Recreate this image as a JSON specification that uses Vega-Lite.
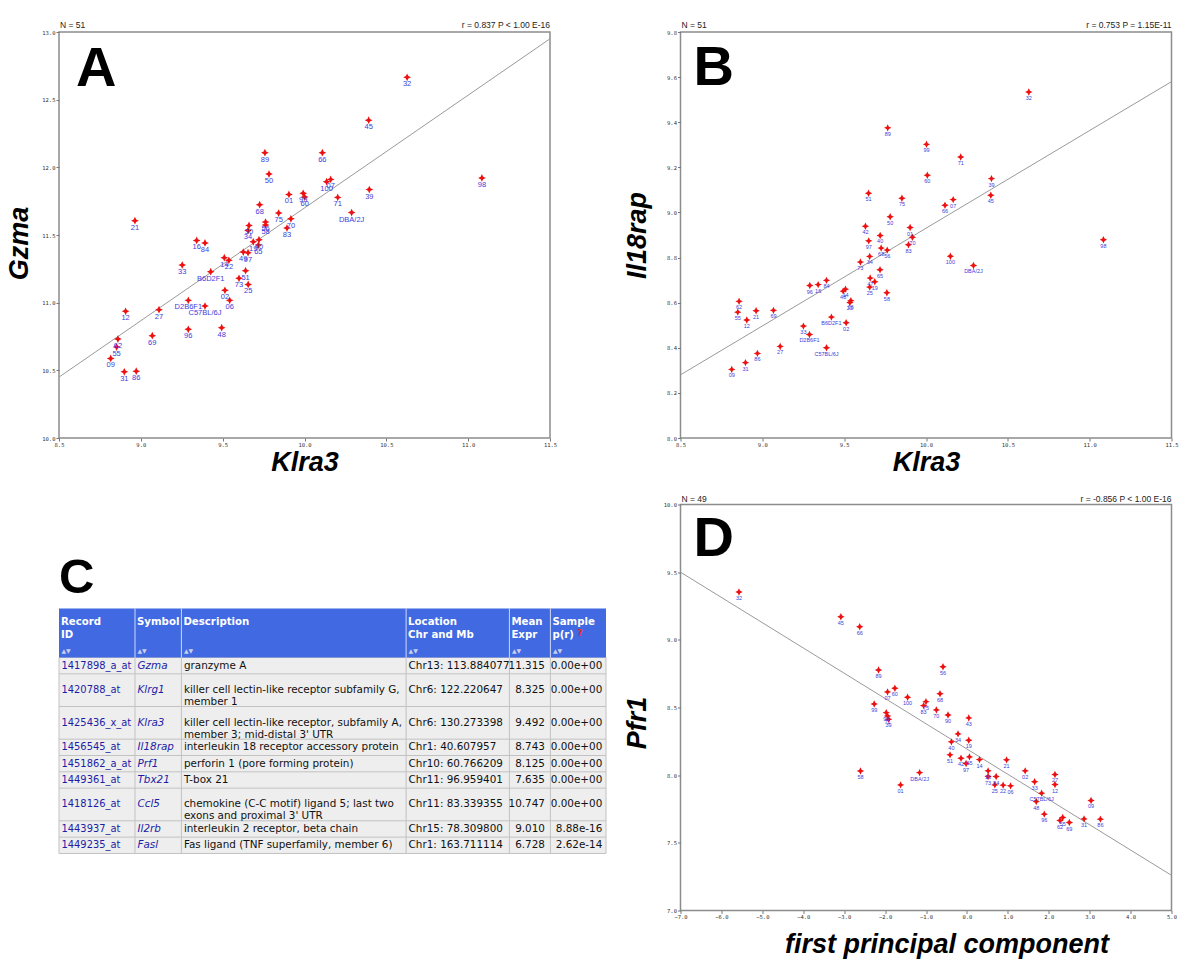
{
  "$schema": "https://vega.github.io/schema/vega-lite/v6.json",
  "background": "white",
  "autosize": {"type": "pad"},
  "padding": {"left": 5, "top": 20, "right": 5, "bottom": 5},
  "columns": 2,
  "bounds": "flush",
  "align": "each",
  "spacing": {"row": 66.5, "column": 74.5},
  "config": {
    "view": {"stroke": "#8c8c8c", "strokeWidth": 1.5},
    "axis": {"domain": false, "grid": false, "labelFont": "DejaVu Sans Mono", "labelFontSize": 5.5, "labelColor": "#333", "tickColor": "#777", "tickSize": 3, "tickWidth": 1, "labelPadding": 1, "labelOverlap": false, "labelFlush": false, "titleFont": "Liberation Sans", "titleFontSize": 27, "titleFontStyle": "italic", "titleFontWeight": "bold", "titleColor": "#000"}
  },
  "datasets": {
    "lineA": [{"x": 8.5, "y": 10.45}, {"x": 11.5, "y": 12.95}],
    "lineB": [{"x": 8.5, "y": 8.28}, {"x": 11.5, "y": 9.58}],
    "lineD": [{"x": -7, "y": 9.5}, {"x": 5, "y": 7.26}],
    "ptsA": [
      {"label": "32", "x": 10.627, "y": 12.665},
      {"label": "45", "x": 10.392, "y": 12.348},
      {"label": "89", "x": 9.758, "y": 12.108},
      {"label": "66", "x": 10.109, "y": 12.108},
      {"label": "50", "x": 9.783, "y": 11.95},
      {"label": "98", "x": 11.084, "y": 11.922},
      {"label": "100", "x": 10.135, "y": 11.894},
      {"label": "07", "x": 10.16, "y": 11.911},
      {"label": "01", "x": 9.905, "y": 11.8},
      {"label": "99", "x": 9.992, "y": 11.808},
      {"label": "60", "x": 10.001, "y": 11.78},
      {"label": "71", "x": 10.203, "y": 11.778},
      {"label": "39", "x": 10.396, "y": 11.836},
      {"label": "68", "x": 9.726, "y": 11.724},
      {"label": "75", "x": 9.842, "y": 11.662},
      {"label": "DBA/2J", "x": 10.288, "y": 11.666},
      {"label": "70", "x": 9.917, "y": 11.62},
      {"label": "21", "x": 8.964, "y": 11.606},
      {"label": "83", "x": 9.893, "y": 11.551},
      {"label": "56", "x": 9.762, "y": 11.596},
      {"label": "58", "x": 9.762, "y": 11.574},
      {"label": "30", "x": 9.661, "y": 11.571},
      {"label": "34", "x": 9.655, "y": 11.534},
      {"label": "16", "x": 9.341, "y": 11.46},
      {"label": "84", "x": 9.392, "y": 11.441},
      {"label": "19", "x": 9.687, "y": 11.45},
      {"label": "40", "x": 9.722, "y": 11.465},
      {"label": "65", "x": 9.718, "y": 11.426},
      {"label": "49", "x": 9.626, "y": 11.374},
      {"label": "97", "x": 9.655, "y": 11.369},
      {"label": "14", "x": 9.51, "y": 11.332},
      {"label": "22", "x": 9.538, "y": 11.313},
      {"label": "33", "x": 9.253, "y": 11.278},
      {"label": "B6D2F1", "x": 9.427, "y": 11.229},
      {"label": "51", "x": 9.64, "y": 11.236},
      {"label": "73", "x": 9.6, "y": 11.18},
      {"label": "25", "x": 9.656, "y": 11.135},
      {"label": "02", "x": 9.514, "y": 11.091},
      {"label": "06", "x": 9.543, "y": 11.017},
      {"label": "D2B6F1", "x": 9.29, "y": 11.017},
      {"label": "C57BL/6J", "x": 9.392, "y": 10.975},
      {"label": "12", "x": 8.907, "y": 10.936},
      {"label": "27", "x": 9.111, "y": 10.948},
      {"label": "96", "x": 9.29, "y": 10.803},
      {"label": "48", "x": 9.494, "y": 10.815},
      {"label": "69", "x": 9.07, "y": 10.756},
      {"label": "62", "x": 8.86, "y": 10.731},
      {"label": "55", "x": 8.852, "y": 10.672},
      {"label": "09", "x": 8.816, "y": 10.588},
      {"label": "31", "x": 8.899, "y": 10.489},
      {"label": "86", "x": 8.972, "y": 10.494}
    ],
    "ptsB": [
      {"label": "32", "x": 10.628, "y": 9.534},
      {"label": "89", "x": 9.766, "y": 9.375},
      {"label": "99", "x": 10.003, "y": 9.302},
      {"label": "71", "x": 10.212, "y": 9.246},
      {"label": "60", "x": 10.008, "y": 9.165},
      {"label": "39", "x": 10.4, "y": 9.15},
      {"label": "51", "x": 9.649, "y": 9.085},
      {"label": "75", "x": 9.853, "y": 9.063},
      {"label": "45", "x": 10.396, "y": 9.076},
      {"label": "66", "x": 10.116, "y": 9.032},
      {"label": "07", "x": 10.166, "y": 9.057},
      {"label": "50", "x": 9.781, "y": 8.981},
      {"label": "42", "x": 9.63, "y": 8.939},
      {"label": "01", "x": 9.903, "y": 8.933},
      {"label": "40", "x": 9.72, "y": 8.898},
      {"label": "70", "x": 9.917, "y": 8.89},
      {"label": "97", "x": 9.65, "y": 8.874},
      {"label": "98", "x": 11.084, "y": 8.879},
      {"label": "83", "x": 9.893, "y": 8.857},
      {"label": "68", "x": 9.726, "y": 8.842},
      {"label": "56", "x": 9.763, "y": 8.833},
      {"label": "34", "x": 9.656, "y": 8.805},
      {"label": "100", "x": 10.149, "y": 8.806},
      {"label": "73", "x": 9.599, "y": 8.78},
      {"label": "DBA/2J", "x": 10.29, "y": 8.765},
      {"label": "65", "x": 9.719, "y": 8.746},
      {"label": "47", "x": 9.659, "y": 8.709},
      {"label": "19", "x": 9.687, "y": 8.693},
      {"label": "25", "x": 9.656, "y": 8.669},
      {"label": "58", "x": 9.761, "y": 8.644},
      {"label": "96", "x": 9.29, "y": 8.676},
      {"label": "16", "x": 9.341, "y": 8.68},
      {"label": "84", "x": 9.392, "y": 8.699},
      {"label": "48", "x": 9.494, "y": 8.651},
      {"label": "14", "x": 9.508, "y": 8.66},
      {"label": "22", "x": 9.535, "y": 8.601},
      {"label": "06", "x": 9.541, "y": 8.609},
      {"label": "62", "x": 8.858, "y": 8.606},
      {"label": "55", "x": 8.85, "y": 8.558},
      {"label": "21", "x": 8.962, "y": 8.564},
      {"label": "69", "x": 9.068, "y": 8.566},
      {"label": "12", "x": 8.905, "y": 8.523},
      {"label": "B6D2F1", "x": 9.422, "y": 8.536},
      {"label": "02", "x": 9.512, "y": 8.511},
      {"label": "33", "x": 9.251, "y": 8.496},
      {"label": "D2B6F1", "x": 9.288, "y": 8.459},
      {"label": "27", "x": 9.109, "y": 8.406},
      {"label": "C57BL/6J", "x": 9.392, "y": 8.4},
      {"label": "86", "x": 8.97, "y": 8.375},
      {"label": "31", "x": 8.897, "y": 8.334},
      {"label": "09", "x": 8.813, "y": 8.304}
    ],
    "ptsD": [
      {"label": "32", "x": -5.571, "y": 9.353},
      {"label": "45", "x": -3.081, "y": 9.171},
      {"label": "66", "x": -2.62, "y": 9.097},
      {"label": "58", "x": -2.602, "y": 8.031},
      {"label": "89", "x": -2.16, "y": 8.777},
      {"label": "56", "x": -0.585, "y": 8.801},
      {"label": "07", "x": -1.94, "y": 8.615},
      {"label": "60", "x": -1.761, "y": 8.642},
      {"label": "100", "x": -1.45, "y": 8.576},
      {"label": "99", "x": -2.266, "y": 8.526},
      {"label": "68", "x": -0.658, "y": 8.602},
      {"label": "75", "x": -1.001, "y": 8.543},
      {"label": "83", "x": -1.058, "y": 8.514},
      {"label": "70", "x": -0.747, "y": 8.482},
      {"label": "90", "x": -0.462, "y": 8.445},
      {"label": "43", "x": 0.045, "y": 8.423},
      {"label": "98", "x": -1.972, "y": 8.462},
      {"label": "71", "x": -1.94, "y": 8.437},
      {"label": "39", "x": -1.915, "y": 8.413},
      {"label": "34", "x": -0.217, "y": 8.305},
      {"label": "40", "x": -0.379, "y": 8.246},
      {"label": "19", "x": 0.045, "y": 8.258},
      {"label": "51", "x": -0.413, "y": 8.15},
      {"label": "42", "x": -0.144, "y": 8.125},
      {"label": "65", "x": 0.062, "y": 8.135},
      {"label": "97", "x": -0.021, "y": 8.086},
      {"label": "14", "x": 0.307, "y": 8.115},
      {"label": "DBA/2J", "x": -1.156, "y": 8.019},
      {"label": "01", "x": -1.621, "y": 7.928},
      {"label": "21", "x": 0.969, "y": 8.113},
      {"label": "16", "x": 0.518, "y": 8.032},
      {"label": "73", "x": 0.518, "y": 7.99},
      {"label": "84", "x": 0.714, "y": 7.99},
      {"label": "25", "x": 0.682, "y": 7.928},
      {"label": "22", "x": 0.885, "y": 7.926},
      {"label": "06", "x": 1.067, "y": 7.921},
      {"label": "02", "x": 1.424, "y": 8.032},
      {"label": "33", "x": 1.655, "y": 7.951},
      {"label": "27", "x": 2.152, "y": 8.005},
      {"label": "12", "x": 2.152, "y": 7.931},
      {"label": "C57BL/6J", "x": 1.826, "y": 7.867},
      {"label": "48", "x": 1.694, "y": 7.805},
      {"label": "09", "x": 3.034, "y": 7.813},
      {"label": "96", "x": 1.89, "y": 7.712},
      {"label": "62", "x": 2.275, "y": 7.665},
      {"label": "55", "x": 2.341, "y": 7.687},
      {"label": "69", "x": 2.503, "y": 7.65},
      {"label": "31", "x": 2.863, "y": 7.677},
      {"label": "86", "x": 3.262, "y": 7.675}
    ],
    "tbl": [
      {"s": "h1", "n": 0, "c": 1, "t": "Record\nID"},
      {"s": "h1", "n": 0, "c": 2, "t": "Symbol"},
      {"s": "h1", "n": 0, "c": 3, "t": "Description"},
      {"s": "h1", "n": 0, "c": 4, "t": "Location\nChr and Mb"},
      {"s": "h1", "n": 0, "c": 5, "t": "Mean\nExpr"},
      {"s": "h1", "n": 0, "c": 6, "t": "Sample\np(r)"},
      {"s": "r1", "n": 1, "c": 1, "t": "1417898_a_at"},
      {"s": "r1", "n": 1, "c": 2, "t": "Gzma"},
      {"s": "r1", "n": 1, "c": 3, "t": "granzyme A"},
      {"s": "r1", "n": 1, "c": 4, "t": "Chr13: 113.884077"},
      {"s": "r1", "n": 1, "c": 5, "t": "11.315"},
      {"s": "r1", "n": 1, "c": 6, "t": "0.00e+00"},
      {"s": "r2a", "n": 2, "c": 1, "t": "1420788_at"},
      {"s": "r2a", "n": 2, "c": 2, "t": "Klrg1"},
      {"s": "r2a", "n": 2, "c": 3, "t": "killer cell lectin-like receptor subfamily G,\nmember 1"},
      {"s": "r2a", "n": 2, "c": 4, "t": "Chr6: 122.220647"},
      {"s": "r2a", "n": 2, "c": 5, "t": "8.325"},
      {"s": "r2a", "n": 2, "c": 6, "t": "0.00e+00"},
      {"s": "r3a", "n": 2, "c": 1, "t": "1425436_x_at"},
      {"s": "r3a", "n": 2, "c": 2, "t": "Klra3"},
      {"s": "r3a", "n": 2, "c": 3, "t": "killer cell lectin-like receptor, subfamily A,\nmember 3; mid-distal 3' UTR"},
      {"s": "r3a", "n": 2, "c": 4, "t": "Chr6: 130.273398"},
      {"s": "r3a", "n": 2, "c": 5, "t": "9.492"},
      {"s": "r3a", "n": 2, "c": 6, "t": "0.00e+00"},
      {"s": "r4", "n": 1, "c": 1, "t": "1456545_at"},
      {"s": "r4", "n": 1, "c": 2, "t": "Il18rap"},
      {"s": "r4", "n": 1, "c": 3, "t": "interleukin 18 receptor accessory protein"},
      {"s": "r4", "n": 1, "c": 4, "t": "Chr1: 40.607957"},
      {"s": "r4", "n": 1, "c": 5, "t": "8.743"},
      {"s": "r4", "n": 1, "c": 6, "t": "0.00e+00"},
      {"s": "r5", "n": 1, "c": 1, "t": "1451862_a_at"},
      {"s": "r5", "n": 1, "c": 2, "t": "Prf1"},
      {"s": "r5", "n": 1, "c": 3, "t": "perforin 1 (pore forming protein)"},
      {"s": "r5", "n": 1, "c": 4, "t": "Chr10: 60.766209"},
      {"s": "r5", "n": 1, "c": 5, "t": "8.125"},
      {"s": "r5", "n": 1, "c": 6, "t": "0.00e+00"},
      {"s": "r6", "n": 1, "c": 1, "t": "1449361_at"},
      {"s": "r6", "n": 1, "c": 2, "t": "Tbx21"},
      {"s": "r6", "n": 1, "c": 3, "t": "T-box 21"},
      {"s": "r6", "n": 1, "c": 4, "t": "Chr11: 96.959401"},
      {"s": "r6", "n": 1, "c": 5, "t": "7.635"},
      {"s": "r6", "n": 1, "c": 6, "t": "0.00e+00"},
      {"s": "r7a", "n": 2, "c": 1, "t": "1418126_at"},
      {"s": "r7a", "n": 2, "c": 2, "t": "Ccl5"},
      {"s": "r7a", "n": 2, "c": 3, "t": "chemokine (C-C motif) ligand 5; last two\nexons and proximal 3' UTR"},
      {"s": "r7a", "n": 2, "c": 4, "t": "Chr11: 83.339355"},
      {"s": "r7a", "n": 2, "c": 5, "t": "10.747"},
      {"s": "r7a", "n": 2, "c": 6, "t": "0.00e+00"},
      {"s": "r8", "n": 1, "c": 1, "t": "1443937_at"},
      {"s": "r8", "n": 1, "c": 2, "t": "Il2rb"},
      {"s": "r8", "n": 1, "c": 3, "t": "interleukin 2 receptor, beta chain"},
      {"s": "r8", "n": 1, "c": 4, "t": "Chr15: 78.309800"},
      {"s": "r8", "n": 1, "c": 5, "t": "9.010"},
      {"s": "r8", "n": 1, "c": 6, "t": "8.88e-16"},
      {"s": "r9", "n": 1, "c": 1, "t": "1449235_at"},
      {"s": "r9", "n": 1, "c": 2, "t": "Fasl"},
      {"s": "r9", "n": 1, "c": 3, "t": "Fas ligand (TNF superfamily, member 6)"},
      {"s": "r9", "n": 1, "c": 4, "t": "Chr1: 163.711114"},
      {"s": "r9", "n": 1, "c": 5, "t": "6.728"},
      {"s": "r9", "n": 1, "c": 6, "t": "2.62e-14"}
    ]
  },
  "concat": [
    {
      "width": 491, "height": 406,
      "layer": [
        {"data": {"name": "lineA"}, "mark": {"type": "line", "color": "#9a9a9a", "strokeWidth": 1},
         "encoding": {
           "x": {"field": "x", "type": "quantitative", "scale": {"domain": [8.5, 11.5], "nice": false, "zero": false}, "axis": {"values": [8.5, 9, 9.5, 10, 10.5, 11, 11.5], "format": ".1f", "title": "Klra3", "titlePadding": 2}},
           "y": {"field": "y", "type": "quantitative", "scale": {"domain": [10, 13], "nice": false, "zero": false}, "axis": {"values": [10, 10.5, 11, 11.5, 12, 12.5, 13], "format": ".1f", "title": "Gzma", "titlePadding": 8, "titleY": 211}}}},
        {"data": {"name": "ptsA"}, "mark": {"type": "point", "shape": "M0,-1L0.32,-0.32L1,0L0.32,0.32L0,1L-0.32,0.32L-1,0L-0.32,-0.32Z", "filled": true, "color": "#ee1010", "opacity": 1, "size": 60},
         "encoding": {
           "x": {"field": "x", "type": "quantitative", "scale": {"domain": [8.5, 11.5], "nice": false, "zero": false}, "axis": {"values": [8.5, 9, 9.5, 10, 10.5, 11, 11.5], "format": ".1f", "title": "Klra3", "titlePadding": 2}},
           "y": {"field": "y", "type": "quantitative", "scale": {"domain": [10, 13], "nice": false, "zero": false}, "axis": {"values": [10, 10.5, 11, 11.5, 12, 12.5, 13], "format": ".1f", "title": "Gzma", "titlePadding": 8, "titleY": 211}}}},
        {"data": {"name": "ptsA"}, "mark": {"type": "text", "color": "#3d3ddb", "fontSize": 7.5, "font": "Liberation Sans", "baseline": "middle", "dy": 7},
         "encoding": {
           "x": {"field": "x", "type": "quantitative", "scale": {"domain": [8.5, 11.5], "nice": false, "zero": false}, "axis": {"values": [8.5, 9, 9.5, 10, 10.5, 11, 11.5], "format": ".1f", "title": "Klra3", "titlePadding": 2}},
           "y": {"field": "y", "type": "quantitative", "scale": {"domain": [10, 13], "nice": false, "zero": false}, "axis": {"values": [10, 10.5, 11, 11.5, 12, 12.5, 13], "format": ".1f", "title": "Gzma", "titlePadding": 8, "titleY": 211}},
           "text": {"field": "label", "type": "nominal"}}},
        {"data": {"values": [{"t": "A"}]}, "mark": {"type": "text", "align": "left", "baseline": "alphabetic", "dx": 17, "dy": 54, "fontSize": 56, "fontWeight": "bold", "font": "Liberation Sans", "color": "#000"},
         "encoding": {"x": {"datum": 8.5, "type": "quantitative"}, "y": {"datum": 13, "type": "quantitative"}, "text": {"field": "t", "type": "nominal"}}},
        {"data": {"values": [{"t": "N = 51"}]}, "mark": {"type": "text", "align": "left", "baseline": "alphabetic", "dx": 1, "dy": -4, "fontSize": 8.5, "font": "Liberation Sans", "color": "#222"},
         "encoding": {"x": {"datum": 8.5, "type": "quantitative"}, "y": {"datum": 13, "type": "quantitative"}, "text": {"field": "t", "type": "nominal"}}},
        {"data": {"values": [{"t": "r = 0.837 P < 1.00 E-16"}]}, "mark": {"type": "text", "align": "right", "baseline": "alphabetic", "dx": 0, "dy": -4, "fontSize": 8.5, "font": "Liberation Sans", "color": "#222"},
         "encoding": {"x": {"datum": 11.5, "type": "quantitative"}, "y": {"datum": 13, "type": "quantitative"}, "text": {"field": "t", "type": "nominal"}}}
      ]
    },
    {
      "width": 491, "height": 406,
      "layer": [
        {"data": {"name": "lineB"}, "mark": {"type": "line", "color": "#9a9a9a", "strokeWidth": 1},
         "encoding": {
           "x": {"field": "x", "type": "quantitative", "scale": {"domain": [8.5, 11.5], "nice": false, "zero": false}, "axis": {"values": [8.5, 9, 9.5, 10, 10.5, 11, 11.5], "format": ".1f", "title": "Klra3", "titlePadding": 2}},
           "y": {"field": "y", "type": "quantitative", "scale": {"domain": [8, 9.8], "nice": false, "zero": false}, "axis": {"values": [8, 8.2, 8.4, 8.6, 8.8, 9, 9.2, 9.4, 9.6, 9.8], "format": ".1f", "title": "Il18rap", "titlePadding": 15}}}},
        {"data": {"name": "ptsB"}, "mark": {"type": "point", "shape": "M0,-1L0.32,-0.32L1,0L0.32,0.32L0,1L-0.32,0.32L-1,0L-0.32,-0.32Z", "filled": true, "color": "#ee1010", "opacity": 1, "size": 55},
         "encoding": {
           "x": {"field": "x", "type": "quantitative", "scale": {"domain": [8.5, 11.5], "nice": false, "zero": false}, "axis": {"values": [8.5, 9, 9.5, 10, 10.5, 11, 11.5], "format": ".1f", "title": "Klra3", "titlePadding": 2}},
           "y": {"field": "y", "type": "quantitative", "scale": {"domain": [8, 9.8], "nice": false, "zero": false}, "axis": {"values": [8, 8.2, 8.4, 8.6, 8.8, 9, 9.2, 9.4, 9.6, 9.8], "format": ".1f", "title": "Il18rap", "titlePadding": 15}}}},
        {"data": {"name": "ptsB"}, "mark": {"type": "text", "color": "#3d3ddb", "fontSize": 5.5, "font": "Liberation Sans", "baseline": "middle", "dy": 6},
         "encoding": {
           "x": {"field": "x", "type": "quantitative", "scale": {"domain": [8.5, 11.5], "nice": false, "zero": false}, "axis": {"values": [8.5, 9, 9.5, 10, 10.5, 11, 11.5], "format": ".1f", "title": "Klra3", "titlePadding": 2}},
           "y": {"field": "y", "type": "quantitative", "scale": {"domain": [8, 9.8], "nice": false, "zero": false}, "axis": {"values": [8, 8.2, 8.4, 8.6, 8.8, 9, 9.2, 9.4, 9.6, 9.8], "format": ".1f", "title": "Il18rap", "titlePadding": 15}},
           "text": {"field": "label", "type": "nominal"}}},
        {"data": {"values": [{"t": "B"}]}, "mark": {"type": "text", "align": "left", "baseline": "alphabetic", "dx": 13, "dy": 53, "fontSize": 56, "fontWeight": "bold", "font": "Liberation Sans", "color": "#000"},
         "encoding": {"x": {"datum": 8.5, "type": "quantitative"}, "y": {"datum": 9.8, "type": "quantitative"}, "text": {"field": "t", "type": "nominal"}}},
        {"data": {"values": [{"t": "N = 51"}]}, "mark": {"type": "text", "align": "left", "baseline": "alphabetic", "dx": 1, "dy": -4, "fontSize": 8.5, "font": "Liberation Sans", "color": "#222"},
         "encoding": {"x": {"datum": 8.5, "type": "quantitative"}, "y": {"datum": 9.8, "type": "quantitative"}, "text": {"field": "t", "type": "nominal"}}},
        {"data": {"values": [{"t": "r = 0.753 P = 1.15E-11"}]}, "mark": {"type": "text", "align": "right", "baseline": "alphabetic", "dx": 0, "dy": -4, "fontSize": 8.5, "font": "Liberation Sans", "color": "#222"},
         "encoding": {"x": {"datum": 11.5, "type": "quantitative"}, "y": {"datum": 9.8, "type": "quantitative"}, "text": {"field": "t", "type": "nominal"}}}
      ]
    },
    {
      "width": 547, "height": 365.3,
      "view": {"stroke": null},
      "layer": [
        {"data": {"values": [{"k": 1}]}, "mark": {"type": "rect", "fill": "#eeeeee", "stroke": "#c2c2c2", "strokeWidth": 1},
         "encoding": {"x": {"datum": 1, "type": "quantitative", "scale": {"type": "linear", "domain": [1, 2, 3, 4, 5, 6, 7], "range": [0, 76, 122.4, 347.1, 450.4, 491.4, 547], "nice": false, "zero": false}, "axis": null}, "x2": {"datum": 7},
                      "y": {"datum": "r1", "type": "ordinal", "bandPosition": 0, "scale": {"type": "band", "domain": ["e1", "e2", "e3", "e4", "e5", "e6", "h1", "h2", "h3", "r1", "r2a", "r2b", "r3a", "r3b", "r4", "r5", "r6", "r7a", "r7b", "r8", "r9", "z"], "paddingInner": 0, "paddingOuter": 0.185, "align": 1}, "axis": null}, "y2": {"datum": "z", "bandPosition": 0}}},
        {"data": {"values": [{"k": 1}]}, "mark": {"type": "rect", "fill": "#4169e1"},
         "encoding": {"x": {"datum": 1, "type": "quantitative", "axis": null}, "x2": {"datum": 7},
                      "y": {"datum": "h1", "type": "ordinal", "bandPosition": 0, "axis": null}, "y2": {"datum": "r1", "bandPosition": 0}}},
        {"data": {"name": "tbl"}, "transform": [{"filter": "datum.s == 'h1' && datum.c > 1"}], "mark": {"type": "rule", "color": "#c2c2c2", "strokeWidth": 1},
         "encoding": {"x": {"field": "c", "type": "quantitative", "axis": null}, "y": {"datum": "r1", "type": "ordinal", "bandPosition": 0, "axis": null}, "y2": {"datum": "z", "bandPosition": 0}}},
        {"data": {"name": "tbl"}, "transform": [{"filter": "datum.s == 'h1' && datum.c > 1"}], "mark": {"type": "rule", "color": "#ffffff", "opacity": 0.75, "strokeWidth": 1},
         "encoding": {"x": {"field": "c", "type": "quantitative", "axis": null}, "y": {"datum": "h1", "type": "ordinal", "bandPosition": 0, "axis": null}, "y2": {"datum": "r1", "bandPosition": 0}}},
        {"data": {"name": "tbl"}, "transform": [{"filter": "datum.c == 1 && datum.n > 0 && datum.s != 'r1'"}], "mark": {"type": "rule", "color": "#c2c2c2", "strokeWidth": 1},
         "encoding": {"x": {"datum": 1, "type": "quantitative", "axis": null}, "x2": {"datum": 7}, "y": {"field": "s", "type": "ordinal", "bandPosition": 0, "axis": null}}},
        {"data": {"name": "tbl"}, "transform": [{"filter": "datum.s == 'h1'"}], "mark": {"type": "text", "font": "DejaVu Sans", "fontWeight": "bold", "fontSize": 10.2, "color": "#ffffff", "align": "left", "baseline": "top", "dx": 2, "dy": 8.5, "lineBreak": "\n", "lineHeight": 13},
         "encoding": {"x": {"field": "c", "type": "quantitative", "axis": null}, "y": {"field": "s", "type": "ordinal", "bandPosition": 0, "axis": null}, "text": {"field": "t", "type": "nominal"}}},
        {"data": {"name": "tbl"}, "transform": [{"filter": "datum.s == 'h1'"}], "mark": {"type": "text", "font": "DejaVu Sans", "fontSize": 6, "color": "#c8d0ee", "align": "left", "baseline": "middle", "dx": 2.5, "text": "▲▼"},
         "encoding": {"x": {"field": "c", "type": "quantitative", "axis": null}, "y": {"datum": "h3", "type": "ordinal", "bandPosition": 0.6, "axis": null}}},
        {"data": {"name": "tbl"}, "transform": [{"filter": "datum.s == 'h1' && datum.c == 6"}], "mark": {"type": "text", "font": "DejaVu Sans", "fontWeight": "bold", "fontSize": 9, "color": "#ff2020", "align": "left", "baseline": "top", "dx": 27, "dy": 4, "text": "?"},
         "encoding": {"x": {"field": "c", "type": "quantitative", "axis": null}, "y": {"datum": "h2", "type": "ordinal", "bandPosition": 0, "axis": null}}},
        {"data": {"values": [{"t": "C"}]}, "mark": {"type": "text", "font": "Liberation Sans", "fontWeight": "bold", "fontSize": 49, "color": "#000", "align": "left", "baseline": "alphabetic", "dx": 0, "dy": -16},
         "encoding": {"x": {"datum": 1, "type": "quantitative", "axis": null}, "y": {"datum": "h1", "type": "ordinal", "bandPosition": 0, "axis": null}, "text": {"field": "t", "type": "nominal"}}},
        {"data": {"name": "tbl"}, "transform": [{"filter": "datum.n == 1 && (datum.c == 1 || datum.c == 3 || datum.c == 4)"}], "mark": {"type": "text", "font": "DejaVu Sans", "align": "left", "baseline": "middle", "dx": 2.5, "lineBreak": "\n", "lineHeight": 12},
         "encoding": {"x": {"field": "c", "type": "quantitative", "axis": null}, "y": {"field": "s", "type": "ordinal", "bandPosition": 0.5, "axis": null}, "text": {"field": "t", "type": "nominal"}, "color": {"condition": {"test": "datum.c == 1", "value": "#1c1ca6"}, "value": "#111111"}, "size": {"condition": {"test": "datum.c == 1", "value": 9.9}, "value": 10.4}}},
        {"data": {"name": "tbl"}, "transform": [{"filter": "datum.n == 2 && (datum.c == 1 || datum.c == 3 || datum.c == 4)"}], "mark": {"type": "text", "font": "DejaVu Sans", "align": "left", "baseline": "middle", "dx": 2.5, "lineBreak": "\n", "lineHeight": 12},
         "encoding": {"x": {"field": "c", "type": "quantitative", "axis": null}, "y": {"field": "s", "type": "ordinal", "bandPosition": 1, "axis": null}, "text": {"field": "t", "type": "nominal"}, "color": {"condition": {"test": "datum.c == 1", "value": "#1c1ca6"}, "value": "#111111"}, "size": {"condition": {"test": "datum.c == 1", "value": 9.9}, "value": 10.4}}},
        {"data": {"name": "tbl"}, "transform": [{"filter": "datum.n == 1 && datum.c == 2"}], "mark": {"type": "text", "font": "DejaVu Sans", "fontSize": 10.4, "fontStyle": "italic", "color": "#1c1ca6", "align": "left", "baseline": "middle", "dx": 2.5},
         "encoding": {"x": {"field": "c", "type": "quantitative", "axis": null}, "y": {"field": "s", "type": "ordinal", "bandPosition": 0.5, "axis": null}, "text": {"field": "t", "type": "nominal"}}},
        {"data": {"name": "tbl"}, "transform": [{"filter": "datum.n == 2 && datum.c == 2"}], "mark": {"type": "text", "font": "DejaVu Sans", "fontSize": 10.4, "fontStyle": "italic", "color": "#1c1ca6", "align": "left", "baseline": "middle", "dx": 2.5},
         "encoding": {"x": {"field": "c", "type": "quantitative", "axis": null}, "y": {"field": "s", "type": "ordinal", "bandPosition": 1, "axis": null}, "text": {"field": "t", "type": "nominal"}}},
        {"data": {"name": "tbl"}, "transform": [{"filter": "datum.n == 1 && datum.c == 5"}], "mark": {"type": "text", "font": "DejaVu Sans", "fontSize": 10.4, "color": "#111111", "align": "right", "baseline": "middle", "dx": 35.5},
         "encoding": {"x": {"field": "c", "type": "quantitative", "axis": null}, "y": {"field": "s", "type": "ordinal", "bandPosition": 0.5, "axis": null}, "text": {"field": "t", "type": "nominal"}}},
        {"data": {"name": "tbl"}, "transform": [{"filter": "datum.n == 2 && datum.c == 5"}], "mark": {"type": "text", "font": "DejaVu Sans", "fontSize": 10.4, "color": "#111111", "align": "right", "baseline": "middle", "dx": 35.5},
         "encoding": {"x": {"field": "c", "type": "quantitative", "axis": null}, "y": {"field": "s", "type": "ordinal", "bandPosition": 1, "axis": null}, "text": {"field": "t", "type": "nominal"}}},
        {"data": {"name": "tbl"}, "transform": [{"filter": "datum.n == 1 && datum.c == 6"}], "mark": {"type": "text", "font": "DejaVu Sans", "fontSize": 10.4, "color": "#111111", "align": "right", "baseline": "middle", "dx": 51.9},
         "encoding": {"x": {"field": "c", "type": "quantitative", "axis": null}, "y": {"field": "s", "type": "ordinal", "bandPosition": 0.5, "axis": null}, "text": {"field": "t", "type": "nominal"}}},
        {"data": {"name": "tbl"}, "transform": [{"filter": "datum.n == 2 && datum.c == 6"}], "mark": {"type": "text", "font": "DejaVu Sans", "fontSize": 10.4, "color": "#111111", "align": "right", "baseline": "middle", "dx": 51.9},
         "encoding": {"x": {"field": "c", "type": "quantitative", "axis": null}, "y": {"field": "s", "type": "ordinal", "bandPosition": 1, "axis": null}, "text": {"field": "t", "type": "nominal"}}}
      ]
    },
    {
      "width": 491, "height": 406,
      "layer": [
        {"data": {"name": "lineD"}, "mark": {"type": "line", "color": "#9a9a9a", "strokeWidth": 1},
         "encoding": {
           "x": {"field": "x", "type": "quantitative", "scale": {"domain": [-7, 5], "nice": false, "zero": false}, "axis": {"values": [-7, -6, -5, -4, -3, -2, -1, 0, 1, 2, 3, 4, 5], "format": ".1f", "title": "first principal component", "titlePadding": 11, "titleX": 266}},
           "y": {"field": "y", "type": "quantitative", "scale": {"domain": [7, 10], "nice": false, "zero": false}, "axis": {"values": [7, 7.5, 8, 8.5, 9, 9.5, 10], "format": ".1f", "title": "Pfr1", "titlePadding": 12, "titleY": 218}}}},
        {"data": {"name": "ptsD"}, "mark": {"type": "point", "shape": "M0,-1L0.32,-0.32L1,0L0.32,0.32L0,1L-0.32,0.32L-1,0L-0.32,-0.32Z", "filled": true, "color": "#ee1010", "opacity": 1, "size": 55},
         "encoding": {
           "x": {"field": "x", "type": "quantitative", "scale": {"domain": [-7, 5], "nice": false, "zero": false}, "axis": {"values": [-7, -6, -5, -4, -3, -2, -1, 0, 1, 2, 3, 4, 5], "format": ".1f", "title": "first principal component", "titlePadding": 11, "titleX": 266}},
           "y": {"field": "y", "type": "quantitative", "scale": {"domain": [7, 10], "nice": false, "zero": false}, "axis": {"values": [7, 7.5, 8, 8.5, 9, 9.5, 10], "format": ".1f", "title": "Pfr1", "titlePadding": 12, "titleY": 218}}}},
        {"data": {"name": "ptsD"}, "mark": {"type": "text", "color": "#3d3ddb", "fontSize": 5.5, "font": "Liberation Sans", "baseline": "middle", "dy": 6},
         "encoding": {
           "x": {"field": "x", "type": "quantitative", "scale": {"domain": [-7, 5], "nice": false, "zero": false}, "axis": {"values": [-7, -6, -5, -4, -3, -2, -1, 0, 1, 2, 3, 4, 5], "format": ".1f", "title": "first principal component", "titlePadding": 11, "titleX": 266}},
           "y": {"field": "y", "type": "quantitative", "scale": {"domain": [7, 10], "nice": false, "zero": false}, "axis": {"values": [7, 7.5, 8, 8.5, 9, 9.5, 10], "format": ".1f", "title": "Pfr1", "titlePadding": 12, "titleY": 218}},
           "text": {"field": "label", "type": "nominal"}}},
        {"data": {"values": [{"t": "D"}]}, "mark": {"type": "text", "align": "left", "baseline": "alphabetic", "dx": 13, "dy": 51, "fontSize": 56, "fontWeight": "bold", "font": "Liberation Sans", "color": "#000"},
         "encoding": {"x": {"datum": -7, "type": "quantitative"}, "y": {"datum": 10, "type": "quantitative"}, "text": {"field": "t", "type": "nominal"}}},
        {"data": {"values": [{"t": "N = 49"}]}, "mark": {"type": "text", "align": "left", "baseline": "alphabetic", "dx": 1, "dy": -3, "fontSize": 8.5, "font": "Liberation Sans", "color": "#222"},
         "encoding": {"x": {"datum": -7, "type": "quantitative"}, "y": {"datum": 10, "type": "quantitative"}, "text": {"field": "t", "type": "nominal"}}},
        {"data": {"values": [{"t": "r = -0.856 P < 1.00 E-16"}]}, "mark": {"type": "text", "align": "right", "baseline": "alphabetic", "dx": 0, "dy": -3, "fontSize": 8.5, "font": "Liberation Sans", "color": "#222"},
         "encoding": {"x": {"datum": 5, "type": "quantitative"}, "y": {"datum": 10, "type": "quantitative"}, "text": {"field": "t", "type": "nominal"}}}
      ]
    }
  ]
}
